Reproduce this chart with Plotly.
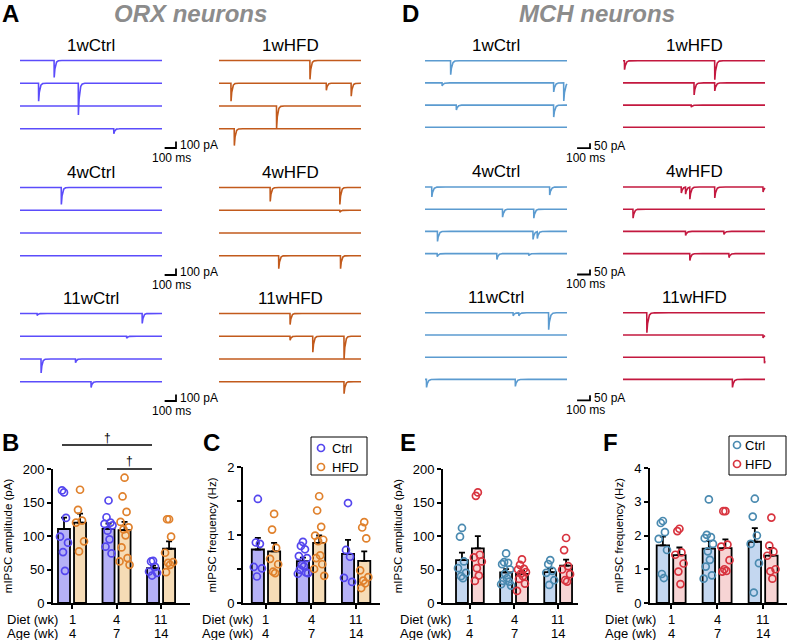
import numpy as np
import plotly.graph_objects as go

W, H = 787, 640
FONT = "Liberation Sans, Arial, sans-serif"

# ---------------- data: bar charts (individual cells) ----------------
diet_wk = ["1", "4", "11"]
age_wk = ["4", "7", "14"]

orx_amp_ctrl = [[165, 168, 127, 99, 90, 76, 48],
                [153, 128, 120, 118, 116, 108, 95, 84, 74],
                [63, 62, 54, 47, 45, 41]]
orx_amp_hfd = [[169, 139, 123, 120, 92, 77],
               [187, 159, 136, 121, 113, 110, 101, 83, 67, 62, 57],
               [125, 125, 99, 75, 61, 60, 57, 46]]
orx_freq_ctrl = [[1.53, 0.89, 0.87, 0.53, 0.51, 0.39],
                 [0.90, 0.84, 0.79, 0.69, 0.66, 0.56, 0.54, 0.49, 0.45, 0.43, 0.44],
                 [1.47, 0.78, 0.68, 0.37, 0.31]]
orx_freq_hfd = [[1.31, 1.08, 0.81, 0.65, 0.57, 0.46, 0.44],
                [1.57, 1.36, 1.12, 0.99, 0.93, 0.91, 0.70, 0.66, 0.57, 0.50, 0.40],
                [1.19, 1.11, 0.95, 0.48, 0.38, 0.33, 0.29, 0.22]]
mch_amp_ctrl = [[112, 99, 62, 52, 45, 40, 37],
                [74, 61, 60, 58, 50, 44, 37, 33, 32, 28, 26],
                [64, 58, 48, 45, 34, 27]]
mch_amp_hfd = [[165, 160, 72, 68, 62, 52, 41, 33],
               [65, 57, 51, 50, 46, 44, 40, 36, 29, 18],
               [97, 79, 55, 50, 43, 34, 32]]
mch_freq_ctrl = [[2.43, 2.37, 2.10, 1.90, 1.57, 0.86, 0.74],
                 [3.07, 2.02, 1.95, 1.92, 1.75, 1.53, 1.28, 1.08, 0.82, 0.72],
                 [3.09, 2.56, 2.00, 1.75, 1.18, 0.31]]
mch_freq_hfd = [[2.20, 2.13, 1.50, 1.43, 1.17, 0.93, 0.56],
                [2.72, 2.72, 1.73, 1.67, 1.27, 1.00, 0.95, 0.93],
                [2.53, 1.70, 1.52, 1.40, 1.00, 0.94, 0.72]]

# ---------------- data: example sweeps, events as (time ms, amplitude pA) per sweep ----------------
orx_1w_ctrl = [[(300, 260)], [(163, 277), (513, 490)], [], [(825, 77)]]
orx_1w_hfd = [[(800, 290)], [(105, 277), (944, 108), (1163, 200)], [(506, 340)], [(134, 260)]]
orx_4w_ctrl = [[(363, 260)], [], [], []]
orx_4w_hfd = [[(450, 215), (1063, 260)], [(1063, 30)], [], [(525, 200), (1069, 200)]]
orx_11w_ctrl = [[(150, 30), (1075, 154)], [(938, 30)], [(185, 215), (488, 60)], [(625, 90)]]
orx_11w_hfd = [[(625, 170)], [(625, 60), (825, 246), (1100, 354)], [], [(1100, 185)]]

mch_1w_ctrl = [[(198, 140)], [(132, 30), (996, 90), (1074, 180)], [(242, 50), (996, 120)], []]
mch_1w_hfd = [[(11, 90), (710, 190)], [(550, 120), (710, 80)], [(528, 20)], []]
mch_4w_ctrl = [[(52, 100), (965, 80)], [(600, 80), (842, 90)],
               [(96, 100), (836, 80), (869, 70)], [(94, 30), (556, 60), (803, 20)]]
mch_4w_hfd = [[(451, 60), (484, 70), (517, 120), (710, 110), (1084, 50)], [(77, 90)],
              [(484, 40), (781, 30)], [(517, 70), (820, 40)]]
mch_11w_ctrl = [[(682, 30), (726, 30), (957, 170)], [], [], [(11, 80), (699, 70)]]
mch_11w_hfd = [[(184, 200)], [(1084, 30)], [(1095, 60)], [(847, 80)]]

group_names = ["1wCtrl", "1wHFD", "4wCtrl", "4wHFD", "11wCtrl", "11wHFD"]
legend_labels = ["Ctrl", "HFD"]

# ---------------- styling ----------------
C_ORX_CTRL_TR, C_ORX_HFD_TR = "#5b4cfb", "#c25a1c"
C_MCH_CTRL_TR, C_MCH_HFD_TR = "#5b9bd0", "#c3183f"
C_ORX_CTRL_PT, C_ORX_HFD_PT = "#5446ee", "#e0812c"
C_ORX_CTRL_BAR, C_ORX_HFD_BAR = "#b5b1f6", "#f6dcb6"
C_MCH_CTRL_PT, C_MCH_HFD_PT = "#4a8ab0", "#d8343f"
C_MCH_CTRL_BAR, C_MCH_HFD_BAR = "#c4d7f0", "#f7d4d4"


def px_x(x):
    return x / W


def px_y(y):
    return 1 - y / H


def names(i):
    s = "" if i == 1 else str(i)
    return "xaxis" + s, "yaxis" + s, "x" + s, "y" + s


fig = go.Figure()
layout = dict(template="none", width=W, height=H, margin=dict(l=0, r=0, t=0, b=0, pad=0, autoexpand=False),
              paper_bgcolor="white", plot_bgcolor="rgba(0,0,0,0)",
              font=dict(family=FONT, color="black", size=12),
              showlegend=False, annotations=[], shapes=[])
ann = layout["annotations"]


def text(x, y, s, size=12, xanchor="center", yanchor="middle", color="black", **kw):
    ann.append(dict(x=px_x(x), y=px_y(y), xref="paper", yref="paper", text=s, showarrow=False,
                    xanchor=xanchor, yanchor=yanchor, font=dict(size=size, color=color, family=FONT), **kw))


def sweep(events, dur, tau):
    t = set(np.arange(0, dur + 0.1, 5.0).tolist())
    for t0, _ in events:
        t.update((t0 + np.arange(-1.0, 90.0, 0.5)).tolist())
    t = np.array(sorted(v for v in t if 0 <= v <= dur))
    y = np.zeros_like(t)
    for t0, amp in events:
        dt = t - t0
        rise = np.clip(dt / 1.0, 0, 1)
        dec = np.exp(-np.clip(dt - 1.0, 0, None) / tau)
        y -= amp * rise * dec
    return t, y


# trace groups: events, color, x0 px, first sweep px, duration ms, pA per px, sweep gap pA, scale bar pA, bar end px
trace_specs = [
    (orx_1w_ctrl, C_ORX_CTRL_TR, 20, 60.5, 1250, 15.4, 350, 100, 156),
    (orx_1w_hfd, C_ORX_HFD_TR, 219, 60.5, 1250, 15.4, 350, None, None),
    (orx_4w_ctrl, C_ORX_CTRL_TR, 20, 187.5, 1250, 15.4, 350, 100, 156),
    (orx_4w_hfd, C_ORX_HFD_TR, 219, 187.5, 1250, 15.4, 350, None, None),
    (orx_11w_ctrl, C_ORX_CTRL_TR, 20, 313.5, 1250, 15.4, 350, 100, 156),
    (orx_11w_hfd, C_ORX_HFD_TR, 219, 313.5, 1250, 15.4, 350, None, None),
    (mch_1w_ctrl, C_MCH_CTRL_TR, 425, 60.7, 1100, 10.0, 222, 50, 165),
    (mch_1w_hfd, C_MCH_HFD_TR, 623, 60.7, 1100, 10.0, 222, None, None),
    (mch_4w_ctrl, C_MCH_CTRL_TR, 425, 187.0, 1100, 10.0, 222, 50, 165),
    (mch_4w_hfd, C_MCH_HFD_TR, 623, 187.0, 1100, 10.0, 222, None, None),
    (mch_11w_ctrl, C_MCH_CTRL_TR, 425, 312.8, 1100, 10.0, 222, 50, 165),
    (mch_11w_hfd, C_MCH_HFD_TR, 623, 312.8, 1100, 10.0, 222, None, None),
]

for k, (events, color, x0, r1, dur, papx, gap, sb, sb_end) in enumerate(trace_specs):
    i = k + 1
    xa, ya, xr, yr = names(i)
    wpx = 185 if sb else 146
    mspx = dur / 142.0
    layout[xa] = dict(domain=[px_x(x0), min(1.0, px_x(x0 + wpx))], range=[0, wpx * mspx],
                      visible=False, fixedrange=True, automargin=False)
    layout[ya] = dict(domain=[px_y(r1 + 100), px_y(r1 - 10)], range=[-100 * papx, 10 * papx],
                      visible=False, fixedrange=True, automargin=False)
    xs, ys = [], []
    for r, row in enumerate(events):
        t, y = sweep(row, dur, 9.0)
        xs += t.tolist() + [None]
        ys += (y - r * gap).tolist() + [None]
    fig.add_trace(go.Scatter(x=xs, y=ys, mode="lines", xaxis=xr, yaxis=yr, showlegend=False,
                             line=dict(color=color, width=1.6), hoverinfo="skip"))
    text(x0 + 71, r1 - 15.5, group_names[k % 6], size=17)
    if sb:
        end = sb_end * mspx
        bot = -87.5 * papx
        fig.add_trace(go.Scatter(x=[end - 100, end, end], y=[bot, bot, bot + sb], mode="lines",
                                 xaxis=xr, yaxis=yr, showlegend=False, hoverinfo="skip",
                                 line=dict(color="black", width=1.8)))
        text(x0 + sb_end + 2, r1 + 87.5 - sb / papx / 2, f"{sb} pA", size=12, xanchor="left")
        text(x0 + sb_end - 5, r1 + 97, "100 ms", size=12)

# ---------------- bar charts ----------------
bar_specs = [
    (13, orx_amp_ctrl, orx_amp_hfd, C_ORX_CTRL_BAR, C_ORX_HFD_BAR, C_ORX_CTRL_PT, C_ORX_HFD_PT,
     (53, 190), (469, 603), [-0.427, 2.65], [0, 200], [0, 50, 100, 150, 200], ["0", "50", "100", "150", "200"],
     "mIPSC amplitude (pA)", None, 5),
    (14, orx_freq_ctrl, orx_freq_hfd, C_ORX_CTRL_BAR, C_ORX_HFD_BAR, C_ORX_CTRL_PT, C_ORX_HFD_PT,
     (243, 380), (467, 603), [-0.51, 2.53], [0, 2], [0, 0.5, 1, 1.5, 2], ["0", "", "1", "", "2"],
     "mIPSC frequency (Hz)", (311, 367, 437, 475, 321, 330, 448, 467), 200),
    (15, mch_amp_ctrl, mch_amp_hfd, C_MCH_CTRL_BAR, C_MCH_HFD_BAR, C_MCH_CTRL_PT, C_MCH_HFD_PT,
     (443, 578), (469, 603), [-0.61, 2.45], [0, 200], [0, 50, 100, 150, 200], ["0", "50", "100", "150", "200"],
     "mIPSC amplitude (pA)", None, 398),
    (16, mch_freq_ctrl, mch_freq_hfd, C_MCH_CTRL_BAR, C_MCH_HFD_BAR, C_MCH_CTRL_PT, C_MCH_HFD_PT,
     (650, 787), (468, 603), [-0.46, 2.52], [0, 4], [0, 1, 2, 3, 4], ["0", "1", "2", "3", "4"],
     "mIPSC frequency (Hz)", (729, 786, 436, 475, 737, 743, 445, 464), 603),
]

jit = [0, -1, 1, -2, 2, -0.5, 0.5, -1.5, 1.5, -2.5, 2.5, 0]
OFF, BW = 0.18, 0.27
leg_axis = 17

for (i, dc, dh, fc, fh, pc, ph, xd, yd, xrng, yrng, tv, tt, ytitle, leg, lab_x) in bar_specs:
    xa, ya, xr, yr = names(i)
    layout[xa] = dict(domain=[px_x(xd[0]), px_x(xd[1])], range=xrng, showline=True, linecolor="black",
                      linewidth=1.8, ticks="outside", ticklen=4, tickwidth=1.8, tickcolor="black",
                      tickvals=[0, 1, 2], showticklabels=False, showgrid=False, zeroline=False,
                      fixedrange=True, anchor=yr, automargin=False)
    layout[ya] = dict(domain=[px_y(yd[1]), px_y(yd[0])], range=yrng, showline=True, linecolor="black",
                      linewidth=1.8, ticks="outside", ticklen=4, tickwidth=1.8, tickcolor="black",
                      tickvals=tv, ticktext=tt, tickfont=dict(size=13), showgrid=False, zeroline=False,
                      fixedrange=True, anchor=xr, automargin=False,
                      title=dict(text=ytitle, font=dict(size=11.5), standoff=8))
    for data, fill, pcol, sign, label in [(dc, fc, pc, -1, "Ctrl"), (dh, fh, ph, 1, "HFD")]:
        means = [float(np.mean(v)) for v in data]
        sems = [float(np.std(v, ddof=1) / np.sqrt(len(v))) for v in data]
        xb = [g + sign * OFF for g in range(3)]
        fig.add_trace(go.Bar(x=xb, y=means, width=BW, xaxis=xr, yaxis=yr, showlegend=False,
                             marker=dict(color=fill, line=dict(color="black", width=1.8)),
                             error_y=dict(type="data", array=sems, arrayminus=[0, 0, 0], symmetric=False,
                                          color="black", thickness=1.8, width=3),
                             hoverinfo="skip"))
        px_, py_ = [], []
        for g, vals in enumerate(data):
            for j, v in enumerate(vals):
                px_.append(g + sign * OFF + jit[j % len(jit)] * 0.045)
                py_.append(v)
        fig.add_trace(go.Scatter(x=px_, y=py_, mode="markers", xaxis=xr, yaxis=yr, name=label,
                                 showlegend=False, cliponaxis=False,
                                 marker=dict(symbol="circle-open", size=7, color=pcol,
                                             line=dict(width=1.7, color=pcol))))
    # Diet / Age rows
    for g in range(3):
        ann.append(dict(x=g, y=px_y(619), xref=xr, yref="paper", text=diet_wk[g], showarrow=False,
                        font=dict(size=13, family=FONT), xanchor="center", yanchor="middle"))
        ann.append(dict(x=g, y=px_y(633), xref=xr, yref="paper", text=age_wk[g], showarrow=False,
                        font=dict(size=13, family=FONT), xanchor="center", yanchor="middle"))
    text(lab_x, 619, "Diet (wk)", size=13, xanchor="left")
    text(lab_x, 633, "Age (wk)", size=13, xanchor="left")

    # legend box (C and F)
    if leg:
        bx0, bx1, by0, by1, sx, tx, yc, yh = leg
        lxa, lya, lxr, lyr = names(leg_axis)
        leg_axis += 1
        layout[lxa] = dict(domain=[px_x(bx0), px_x(bx1)], range=[bx0, bx1], visible=False,
                           fixedrange=True, automargin=False)
        layout[lya] = dict(domain=[px_y(by1), px_y(by0)], range=[by1, by0], visible=False,
                           fixedrange=True, automargin=False)
        layout["shapes"].append(dict(type="rect", xref="paper", yref="paper", x0=px_x(bx0), x1=px_x(bx1),
                                     y0=px_y(by1), y1=px_y(by0), line=dict(color="black", width=1),
                                     fillcolor="white", layer="below"))
        for yy, col, lab in [(yc, pc, legend_labels[0]), (yh, ph, legend_labels[1])]:
            fig.add_trace(go.Scatter(x=[sx], y=[yy], mode="markers", xaxis=lxr, yaxis=lyr, name=lab,
                                     showlegend=False, cliponaxis=False, hoverinfo="skip",
                                     marker=dict(symbol="circle-open", size=7, color=col,
                                                 line=dict(width=1.7, color=col))))
            text(tx, yy, lab, size=13, xanchor="left")

# significance bars in B
for (xa_, xb_, yy, xd_, yd_) in [(62, 152, 445, 107, 438), (107, 152, 469, 129.5, 461)]:
    layout["shapes"].append(dict(type="line", xref="paper", yref="paper", x0=px_x(xa_), x1=px_x(xb_),
                                 y0=px_y(yy), y1=px_y(yy), line=dict(color="black", width=1.5)))
    text(xd_, yd_, "†", size=12)

# panel letters and titles
for (x, y, s) in [(0, 14, "A"), (400, 14, "D"), (0, 442, "B"), (201, 442, "C"), (398, 442, "E"), (601, 442, "F")]:
    text(x, y, "<b>" + s + "</b>", size=24, xanchor="left")
text(190, 14, "<b><i>ORX neurons</i></b>", size=24, color="#8c8c8c")
text(597, 14, "<b><i>MCH neurons</i></b>", size=24, color="#8c8c8c")

fig.update_layout(**layout)
fig.write_html("out.html", config={"displayModeBar": False},
               post_script="document.body.style.margin='0';document.body.style.overflow='hidden';")
